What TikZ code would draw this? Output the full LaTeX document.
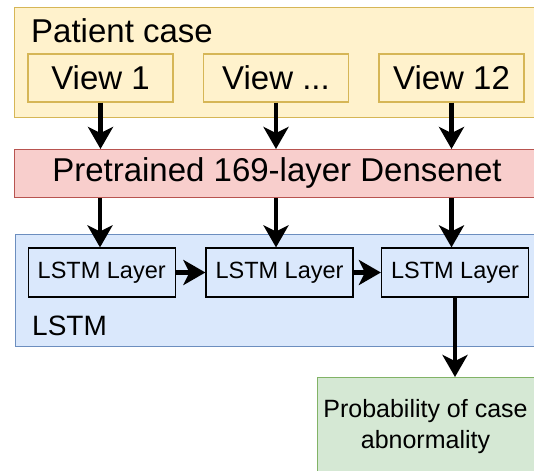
\documentclass[tikz,border=0pt]{standalone}
\usepackage{fontspec}
\setmainfont{Liberation Sans}
\usetikzlibrary{arrows.meta,positioning}
\definecolor{caseFill}{HTML}{FFF2CC}
\definecolor{caseLine}{HTML}{D6B656}
\definecolor{netFill}{HTML}{F8CECC}
\definecolor{netLine}{HTML}{B85450}
\definecolor{lstmFill}{HTML}{DAE8FC}
\definecolor{lstmLine}{HTML}{6C8EBF}
\definecolor{probFill}{HTML}{D5E8D4}
\definecolor{probLine}{HTML}{82B366}

\begin{document}
\begin{tikzpicture}[x=1pt,y=-1pt]
\tikzset{box/.style={draw, rectangle, inner sep=0pt, line width=1.2pt},
         group/.style={box, anchor=north west},
         bigtext/.style={font=\fontsize{33}{39}\selectfont},
         viewbox/.style={box, draw=caseLine, fill=caseFill, bigtext,
                         minimum width=145pt, minimum height=48pt},
         layerbox/.style={box, draw=black, fill=lstmFill, font=\fontsize{23.5}{28}\selectfont,
                          minimum width=147pt, minimum height=49pt},
         flow/.style={line width=4.5pt, -{Stealth[length=22pt,width=25pt,inset=6pt]}}}
\useasboundingbox (0,0) rectangle (534,470);
\clip (0,0) rectangle (534,470);

\node[group, draw=caseLine, fill=caseFill, minimum width=526pt, minimum height=110pt] (case) at (14,7) {};
\node[anchor=base west, bigtext, inner sep=0pt] (casetitle) at (31,43) {Patient case};
\node[viewbox] (view1) at (100.5,78) {View 1};
\node[viewbox] (viewdots) at (276,78) {View ...};
\node[viewbox] (view12) at (451.5,78) {View 12};

\node[group, draw=netLine, fill=netFill, minimum width=526pt, minimum height=48pt] (densenet) at (14,149) {};
\node[bigtext, inner sep=0pt] (densetext) at (277,173) {Pretrained 169-layer Densenet};

\node[group, draw=lstmLine, fill=lstmFill, minimum width=525pt, minimum height=112pt] (lstm) at (15,234) {};
\node[anchor=base west, font=\fontsize{28}{34}\selectfont, inner sep=0pt] (lstmtitle) at (32,335) {LSTM};
\node[layerbox] (layer1) at (101.7,272.5) {LSTM Layer};
\node[layerbox] (layer2) at (279.5,272.5) {LSTM Layer};
\node[layerbox] (layer3) at (455,272.5) {LSTM Layer};

\node[group, draw=probLine, fill=probFill, minimum width=219pt, minimum height=110pt] (prob) at (317,377) {};
\node[font=\fontsize{25}{31}\selectfont, align=center, inner sep=0pt, anchor=base] (probtext) at (425.5,448)
     {Probability of case\\abnormality};

\draw[flow] (view1.south) -- (view1 |- densenet.north);
\draw[flow] (viewdots.south) -- (viewdots |- densenet.north);
\draw[flow] (view12.south) -- (view12 |- densenet.north);
\draw[flow] ([xshift=-0.5pt]view1 |- densenet.south) -- ([xshift=-0.5pt]view1 |- layer1.north);
\draw[flow] (viewdots |- densenet.south) -- (viewdots |- layer2.north);
\draw[flow] (view12 |- densenet.south) -- (view12 |- layer3.north);
\draw[flow] (layer1) -- (layer2);
\draw[flow] (layer2) -- (layer3);
\draw[flow] (layer3.south) -- (layer3 |- prob.north);
\end{tikzpicture}
\end{document}
